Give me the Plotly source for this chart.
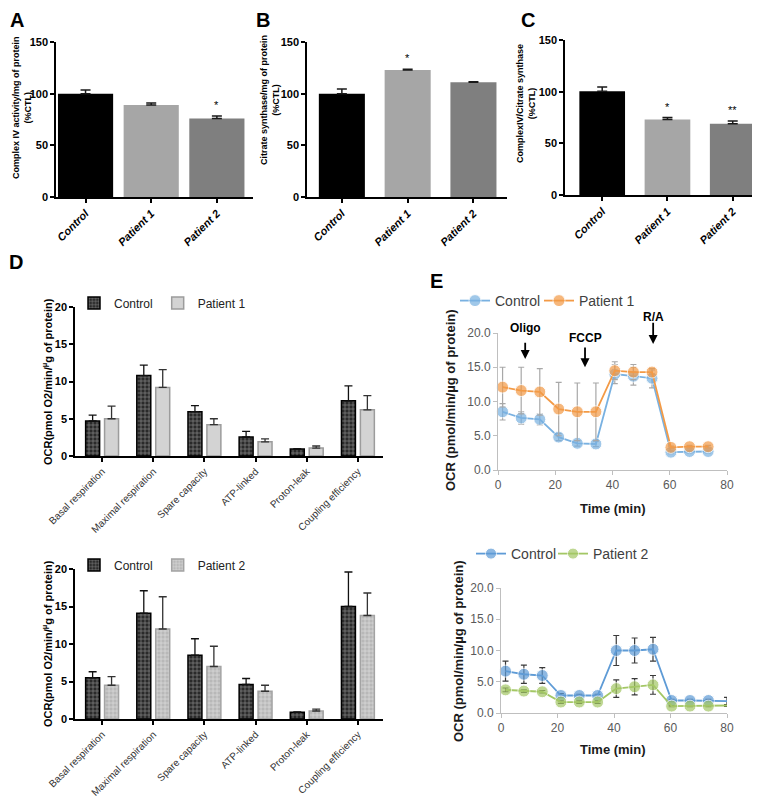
import plotly.graph_objects as go

W, H = 760, 797
FONT = "Liberation Sans, Arial, sans-serif"

# ---------------- data ----------------
groups = ["Control", "Patient 1", "Patient 2"]
a_vals = [100, 89, 76]
a_err = [3.5, 2.0, 2.5]
a_sig = ["", "", "*"]
b_vals = [100, 123, 111]
b_err = [4.5, 0.6, 0.5]
b_sig = ["", "*", ""]
c_vals = [100.5, 73, 69]
c_err = [4.0, 2.0, 2.5]
c_sig = ["", "*", "**"]

params = ["Basal respiration", "Maximal respiration", "Spare capacity",
          "ATP-linked", "Proton-leak", "Coupling efficiency"]
d1_ctrl = [4.7, 10.8, 5.95, 2.55, 0.94, 7.4]
d1_ctrl_err = [0.8, 1.4, 0.8, 0.75, 0.05, 2.0]
d1_p1 = [5.0, 9.2, 4.2, 1.9, 1.07, 6.2]
d1_p1_err = [1.7, 2.4, 0.8, 0.4, 0.27, 1.9]
d2_ctrl = [5.5, 14.1, 8.5, 4.6, 0.9, 15.0]
d2_ctrl_err = [0.8, 3.0, 2.2, 0.8, 0.05, 4.6]
d2_p2 = [4.5, 12.0, 7.0, 3.7, 1.07, 13.8]
d2_p2_err = [1.15, 4.3, 2.7, 0.8, 0.26, 3.0]

time_min = [1.6, 8.1, 14.6, 21.2, 27.7, 34.2, 40.8, 47.3, 53.8, 60.4, 66.9, 73.4]
e1_ctrl = [8.5, 7.6, 7.4, 4.8, 3.9, 3.8, 14.0, 13.7, 13.4, 2.6, 2.7, 2.7]
e1_ctrl_err = [1.2, 0.9, 0.8, 0.5, 0.4, 0.4, 1.4, 1.3, 1.4, 0.2, 0.2, 0.2]
e1_p1 = [12.1, 11.6, 11.4, 8.9, 8.5, 8.5, 14.5, 14.3, 14.3, 3.3, 3.4, 3.4]
e1_p1_err = [2.9, 3.4, 3.4, 3.9, 4.2, 4.2, 1.3, 1.1, 0.3, 0.2, 0.2, 0.2]

e2_time = [1.6, 8.1, 14.6, 21.2, 27.7, 34.2, 40.8, 47.3, 53.8, 60.4, 66.9, 73.4, 80]
e2_ctrl = [6.7, 6.2, 6.0, 2.8, 2.8, 2.8, 10.0, 10.0, 10.2, 2.0, 2.0, 2.0, 1.9]
e2_ctrl_err = [1.6, 1.45, 1.25, 0.3, 0.2, 0.2, 2.4, 2.0, 1.9, 0.2, 0.2, 0.2, 0.6]
e2_p2 = [3.7, 3.5, 3.4, 1.75, 1.75, 1.75, 3.9, 4.2, 4.5, 1.1, 1.1, 1.1, 1.2]
e2_p2_err = [0.3, 0.2, 0.2, 0.2, 0.2, 0.2, 1.4, 1.3, 1.5, 0.1, 0.1, 0.1, 0.15]

injections = ["Oligo", "FCCP", "R/A"]
inj_time = [9.5, 30.4, 54.2]
inj_label_level = [20.7, 19.3, 22.3]
inj_arrow_top = [18.8, 18.1, 21.7]
inj_arrow_tip = [16.2, 15.0, 18.4]
E_YMAX = 20


# ---------------- helpers ----------------
def xdom(a, b):
    return [a / W, b / W]


def ydom(top, bottom):
    return [1 - bottom / H, 1 - top / H]


def px(v):
    return v / W


def py(v):
    return 1 - v / H


fig = go.Figure()
annotations = []

# ---------------- panels A-C ----------------
abc = [
    ("x", "y", a_vals, a_err, a_sig, 0.84),
    ("x2", "y2", b_vals, b_err, b_sig, 0.70),
    ("x3", "y3", c_vals, c_err, c_sig, 0.70),
]
bar_colors = ["#000000", "#a6a6a6", "#7f7f7f"]
for xa, ya, vals, err, sig, w in abc:
    fig.add_trace(go.Bar(
        x=groups, y=vals, width=w, xaxis=xa, yaxis=ya, showlegend=False,
        marker=dict(color=bar_colors, line=dict(width=0)),
        error_y=dict(type="data", array=err, arrayminus=[0] * len(err), symmetric=False,
                     color="#1a1a1a", thickness=1.5, width=5),
    ))
    for g, v, e, s in zip(groups, vals, err, sig):
        if s:
            annotations.append(dict(x=g, y=v + e, xref=xa, yref=ya, text=s, showarrow=False,
                                    yanchor="bottom", yshift=3,
                                    font=dict(size=11, color="#000000", family=FONT)))

bar_axis_common = dict(showline=True, linecolor="black", linewidth=1.5, ticks="outside",
                       ticklen=4, tickwidth=1.5, tickcolor="black", showgrid=False,
                       zeroline=False, fixedrange=True, automargin=False)
abc_geom = [
    ("xaxis", "yaxis", "x", "y", (48, 245), (34, 189), [-0.45, 2.55]),
    ("xaxis2", "yaxis2", "x2", "y2", (299, 499), (34, 189), [-0.53, 2.51]),
    ("xaxis3", "yaxis3", "x3", "y3", (557, 758), (32, 187), [-0.57, 2.51]),
]
for xk, yk, xa, ya, (x0, x1), (y0, y1), rng in abc_geom:
    fig.update_layout({
        xk: dict(domain=xdom(x0, x1), anchor=ya, range=rng, tickangle=-45,
                 tickfont=dict(size=11, family=FONT, color="black", weight="bold", style="italic"),
                 **bar_axis_common),
        yk: dict(domain=ydom(y0, y1), anchor=xa, range=[0, 150], tickvals=[0, 50, 100, 150],
                 tickfont=dict(size=11, family=FONT, color="black", weight="bold"),
                 **bar_axis_common),
    })

ytitles_abc = [
    ("Complex IV activity/mg of protein<br>(%CTL)", 14, 100),
    ("Citrate synthase/mg of protein<br>(%CTL)", 262, 92),
    ("ComplexIV/Citrate synthase<br>(%CTL)", 518, 96),
]
for t, xx, yy in ytitles_abc:
    annotations.append(dict(x=px(xx), y=py(yy), xref="paper", yref="paper", text=t,
                            textangle=-90, showarrow=False, xanchor="center", yanchor="middle",
                            font=dict(size=9, family=FONT, color="black", weight="bold")))

# ---------------- panel D ----------------
bw, off_c, off_p = 0.273, -0.322, 0.048
ctrl_pattern = dict(shape="+", fgcolor="#8a8a8a", bgcolor="#2a2a2a", size=4, solidity=0.3)
p2_pattern = dict(shape="+", fgcolor="#dedede", bgcolor="#b8b8b8", size=4, solidity=0.3)

d_sets = [
    ("x4", "y4", "legend", d1_ctrl, d1_ctrl_err, "Patient 1", d1_p1, d1_p1_err,
     dict(color="#d3d3d3", line=dict(color="#9c9c9c", width=1.5))),
    ("x5", "y5", "legend2", d2_ctrl, d2_ctrl_err, "Patient 2", d2_p2, d2_p2_err,
     dict(color="#b8b8b8", pattern=p2_pattern, line=dict(color="#a3a3a3", width=1.5))),
]
for xa, ya, lg, cv, ce, pname, pv, pe, pmarker in d_sets:
    fig.add_trace(go.Bar(
        x=params, y=cv, width=bw, offset=off_c, xaxis=xa, yaxis=ya, name="Control", legend=lg,
        marker=dict(color="#2a2a2a", pattern=ctrl_pattern, line=dict(color="black", width=1.5)),
        error_y=dict(type="data", array=ce, arrayminus=[0] * len(ce), symmetric=False,
                     color="#111", thickness=1.3, width=4),
    ))
    fig.add_trace(go.Bar(
        x=params, y=pv, width=bw, offset=off_p, xaxis=xa, yaxis=ya, name=pname, legend=lg,
        marker=pmarker,
        error_y=dict(type="data", array=pe, arrayminus=[0] * len(pe), symmetric=False,
                     color="#333", thickness=1.3, width=4),
    ))

d_geom = [("xaxis4", "yaxis4", "x4", "y4", (299, 448)),
          ("xaxis5", "yaxis5", "x5", "y5", (561, 711))]
for xk, yk, xa, ya, (y0, y1) in d_geom:
    fig.update_layout({
        xk: dict(domain=xdom(67, 375), anchor=ya, range=[-0.53, 5.49], tickangle=-45,
                 tickfont=dict(size=10, family=FONT, color="#333"), **bar_axis_common),
        yk: dict(domain=ydom(y0, y1), anchor=xa, range=[0, 20], tickvals=[0, 5, 10, 15, 20],
                 tickfont=dict(size=11, family=FONT, color="black", weight="bold"),
                 **bar_axis_common),
    })

for yy in (374, 636):
    annotations.append(dict(x=px(39), y=py(yy), xref="paper", yref="paper",
                            text="OCR(pmol O2/min/<sup>µ</sup>g of protein)",
                            textangle=-90, showarrow=False, xanchor="center", yanchor="middle",
                            font=dict(size=11, family=FONT, color="black", weight="bold")))

# ---------------- panel E ----------------
e_sets = [
    ("x6", "y6", "legend3", "legend5", time_min, e1_ctrl, e1_ctrl_err, "#79b1e1", "Patient 1",
     e1_p1, e1_p1_err, "#f39a46", "#a8a8a8"),
    ("x7", "y7", "legend4", "legend6", e2_time, e2_ctrl, e2_ctrl_err, "#5e9bd6", "Patient 2",
     e2_p2, e2_p2_err, "#a3c764", "#3a3a3a"),
]
for xa, ya, lg_c, lg_p, tt, cv, ce, cc, pname, pv, pe, pc, ec in e_sets:
    sizes = [12 if t < 80 else 0 for t in tt]
    fig.add_trace(go.Scatter(
        x=tt, y=cv, mode="lines+markers", name="Control", legend=lg_c, xaxis=xa, yaxis=ya,
        line=dict(color=cc, width=1.8), marker=dict(color=cc, size=sizes),
        error_y=dict(type="data", array=ce, color=ec, thickness=1.2, width=3),
        cliponaxis=False,
    ))
    fig.add_trace(go.Scatter(
        x=tt, y=pv, mode="lines+markers", name=pname, legend=lg_p, xaxis=xa, yaxis=ya,
        line=dict(color=pc, width=1.8), marker=dict(color=pc, size=sizes),
        error_y=dict(type="data", array=pe, color=ec, thickness=1.2, width=3),
        cliponaxis=False,
    ))

e_axis_common = dict(showline=True, linecolor="#bfbfbf", linewidth=1, ticks="outside",
                     ticklen=4, tickcolor="#bfbfbf", showgrid=False, zeroline=False,
                     fixedrange=True, automargin=False,
                     tickfont=dict(size=12, family=FONT, color="#595959"))
e_geom = [("xaxis6", "yaxis6", "x6", "y6", (490, 719), (325, 462)),
          ("xaxis7", "yaxis7", "x7", "y7", (493, 719), (580, 705))]
for xk, yk, xa, ya, (x0, x1), (y0, y1) in e_geom:
    fig.update_layout({
        xk: dict(domain=xdom(x0, x1), anchor=ya, range=[0, 80], tickvals=[0, 20, 40, 60, 80],
                 **e_axis_common),
        yk: dict(domain=ydom(y0, y1), anchor=xa, range=[0, E_YMAX], tickvals=[0, 5, 10, 15, 20],
                 tickformat=".1f", **e_axis_common),
    })

for xx, yy in ((443, 392), (450, 643)):
    annotations.append(dict(x=px(xx), y=py(yy), xref="paper", yref="paper",
                            text="OCR (pmol/min/µg of protein)", textangle=-90, showarrow=False,
                            xanchor="center", yanchor="middle",
                            font=dict(size=13, family=FONT, color="#1a1a1a", weight="bold")))
for yy in (500, 741):
    annotations.append(dict(x=px(605), y=py(yy), xref="paper", yref="paper", text="Time (min)",
                            showarrow=False, xanchor="center", yanchor="middle",
                            font=dict(size=13, family=FONT, color="#1a1a1a", weight="bold")))

for name, t, lvl, top, tip in zip(injections, inj_time, inj_label_level, inj_arrow_top, inj_arrow_tip):
    annotations.append(dict(x=t, y=lvl / E_YMAX, xref="x6", yref="y6 domain", text=name,
                            showarrow=False, xanchor="center", yanchor="middle",
                            font=dict(size=12, family=FONT, color="black", weight="bold")))
    annotations.append(dict(x=t, y=tip / E_YMAX, xref="x6", yref="y6 domain",
                            ax=t, ay=top / E_YMAX, axref="x6", ayref="y6 domain",
                            text="", showarrow=True, arrowhead=2, arrowsize=1,
                            arrowwidth=1.8, arrowcolor="black"))

# ---------------- panel letters ----------------
for letter, xx, yy in (("A", 9, 12), ("B", 255, 12), ("C", 520, 12), ("D", 8, 254), ("E", 428, 273)):
    annotations.append(dict(x=px(xx), y=py(yy), xref="paper", yref="paper", text=letter,
                            showarrow=False, xanchor="center", yanchor="middle",
                            font=dict(size=20, family=FONT, color="black", weight="bold")))

legend_common = dict(orientation="h", xanchor="left", yanchor="middle", bgcolor="rgba(0,0,0,0)",
                     borderwidth=0)
e_legend_font = dict(size=14, color="#404040", family=FONT)
fig.update_layout(
    template="none",
    width=W, height=H, margin=dict(l=0, r=0, t=0, b=0, autoexpand=False),
    paper_bgcolor="white", plot_bgcolor="white", barmode="overlay",
    font=dict(family=FONT),
    annotations=annotations,
    legend=dict(x=px(66), y=py(295), font=dict(size=12, color="#222", family=FONT), **legend_common),
    legend2=dict(x=px(66), y=py(557), font=dict(size=12, color="#222", family=FONT), **legend_common),
    legend3=dict(x=px(447), y=py(293), font=e_legend_font, **legend_common),
    legend5=dict(x=px(531), y=py(293), font=e_legend_font, **legend_common),
    legend4=dict(x=px(463), y=py(546), font=e_legend_font, **legend_common),
    legend6=dict(x=px(545), y=py(546), font=e_legend_font, **legend_common),
)

fig.write_html("out.html")
